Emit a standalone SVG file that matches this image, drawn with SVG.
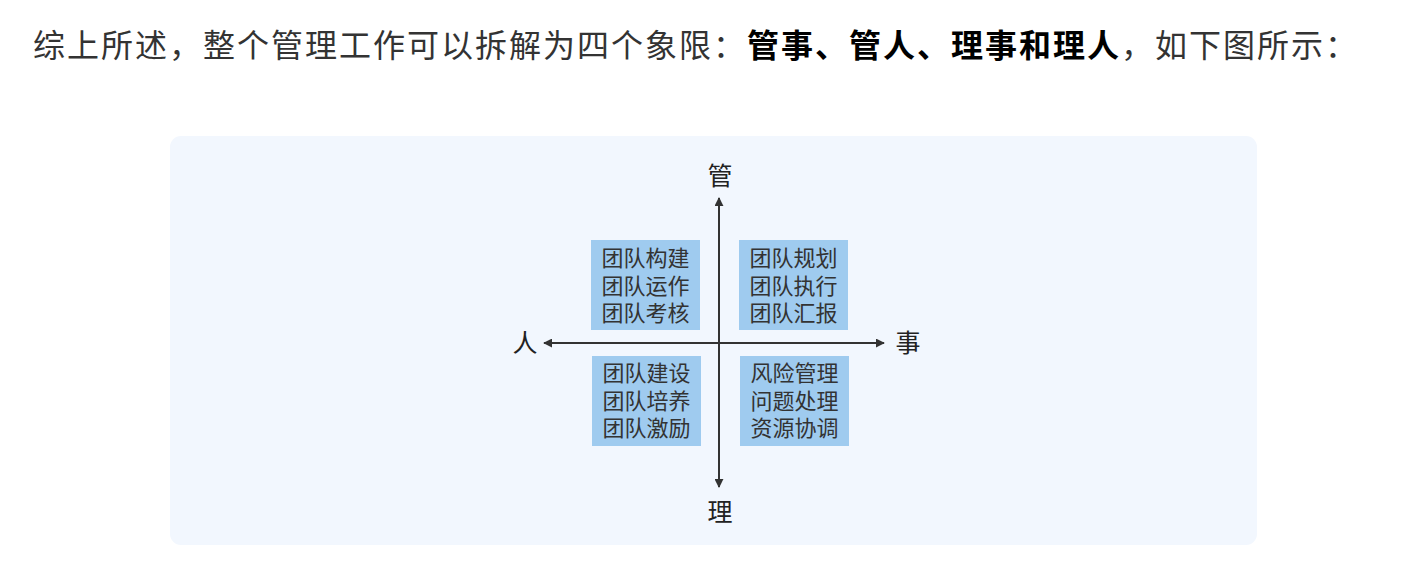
<svg xmlns="http://www.w3.org/2000/svg" width="1408" height="582" viewBox="0 0 1408 582">
<style>
  .cjk { font-family: "Noto Sans CJK SC", "Noto Sans", sans-serif; }
  .head { font-size: 32px; fill: #333333; letter-spacing: 2px; }
  .bold { font-weight: bold; fill: #000000; }
  .axis-label { font-size: 25px; fill: #222222; text-anchor: middle; }
  .box { fill: #9FCBEF; }
  .box-text { font-size: 22px; fill: #333333; text-anchor: middle; }
  .axis { stroke: #333333; stroke-width: 2; fill: none; }
</style>
<defs>
  <marker id="arrow" viewBox="0 0 10 10" refX="9" refY="5" markerWidth="4.5" markerHeight="4.5" orient="auto-start-reverse" markerUnits="strokeWidth">
    <path d="M0,0 L10,5 L0,10 Z" fill="#333333"/>
  </marker>
</defs>
<rect width="1408" height="582" fill="#ffffff"/>
<g id="header">
  <text class="cjk head" x="33" y="57">综上所述，整个管理工作可以拆解为四个象限：<tspan class="bold">管事、管人、理事和理人</tspan>，如下图所示：</text>
</g>
<rect id="panel" x="170" y="136" width="1087" height="409" rx="11" fill="#F2F7FE"/>
<g id="connectors">
  <line class="axis" x1="719" y1="487" x2="719" y2="198" marker-end="url(#arrow)" marker-start="url(#arrow)"/>
  <line class="axis" x1="544" y1="343" x2="884" y2="343" marker-end="url(#arrow)" marker-start="url(#arrow)"/>
</g>
<g id="label-guan"><text class="cjk axis-label" x="720" y="185">管</text></g>
<g id="label-li"><text class="cjk axis-label" x="720" y="521">理</text></g>
<g id="label-ren"><text class="cjk axis-label" x="525" y="352">人</text></g>
<g id="label-shi"><text class="cjk axis-label" x="908" y="352">事</text></g>
<g id="box-tl">
  <rect class="box" x="591" y="240" width="109" height="90"/>
  <text class="cjk box-text" x="645.5"><tspan x="645.5" y="266">团队构建</tspan><tspan x="645.5" y="294">团队运作</tspan><tspan x="645.5" y="321">团队考核</tspan></text>
</g>
<g id="box-tr">
  <rect class="box" x="739" y="240" width="109" height="90"/>
  <text class="cjk box-text" x="793.5"><tspan x="793.5" y="266">团队规划</tspan><tspan x="793.5" y="294">团队执行</tspan><tspan x="793.5" y="321">团队汇报</tspan></text>
</g>
<g id="box-bl">
  <rect class="box" x="592" y="356" width="109" height="90"/>
  <text class="cjk box-text" x="646.5"><tspan x="646.5" y="381">团队建设</tspan><tspan x="646.5" y="409">团队培养</tspan><tspan x="646.5" y="436">团队激励</tspan></text>
</g>
<g id="box-br">
  <rect class="box" x="740" y="356" width="109" height="90"/>
  <text class="cjk box-text" x="794.5"><tspan x="794.5" y="381">风险管理</tspan><tspan x="794.5" y="409">问题处理</tspan><tspan x="794.5" y="436">资源协调</tspan></text>
</g>
</svg>
